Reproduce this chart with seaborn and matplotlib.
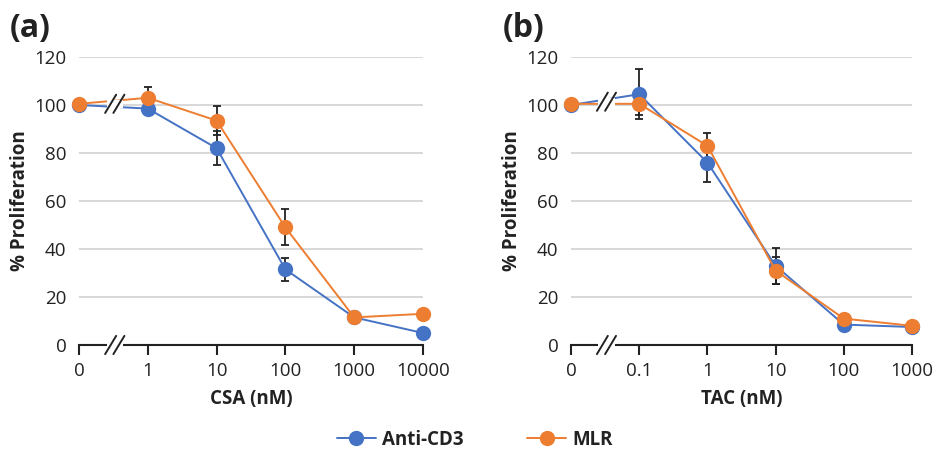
import matplotlib
matplotlib.use('Agg')

import numpy as np
import pandas as pd
import matplotlib.pyplot as plt
import seaborn as sns

sns.set_theme(style="white")
plt.rcParams['font.family'] = ['Open Sans', 'DejaVu Sans']

# Daten
csa_doses = ['0', '1', '10', '100', '1000', '10000']
csa_anti = [100, 98.5, 82, 31.5, 11.5, 5]
csa_anti_err = [0, 0, 7, 4.8, 0, 0]
csa_mlr = [100.5, 103, 93.5, 49, 11.5, 13]
csa_mlr_err = [0, 4.5, 6, 7.5, 0, 0]

tac_doses = ['0', '0.1', '1', '10', '100', '1000']
tac_anti = [100, 104.5, 76, 33, 8.5, 7.5]
tac_anti_err = [0, 10.5, 8, 7.5, 0, 0]
tac_mlr = [100.5, 100.5, 83, 31, 11, 8]
tac_mlr_err = [0, 4.5, 5.5, 5.5, 0, 0]

blue = '#4472C4'
orange = '#ED7D31'
dark = '#222222'

fig = plt.figure(figsize=(9.36, 4.55), dpi=100)
ax_a = fig.add_axes([79 / 936, 1 - 345 / 455, 344 / 936, 288 / 455])
ax_b = fig.add_axes([571 / 936, 1 - 345 / 455, 341 / 936, 288 / 455])


def panel(ax, doses, anti, anti_err, mlr, mlr_err, xlabel, tag):
    pos = np.arange(len(doses))
    df = pd.DataFrame({'pos': np.concatenate([pos, pos]),
                       'val': anti + mlr,
                       'serie': ['Anti-CD3'] * len(pos) + ['MLR'] * len(pos)})
    ax.errorbar(pos, anti, yerr=anti_err, fmt='none', ecolor=dark,
                elinewidth=1.3, capsize=3, capthick=1.3, zorder=2, clip_on=False)
    ax.errorbar(pos, mlr, yerr=mlr_err, fmt='none', ecolor=dark,
                elinewidth=1.3, capsize=3, capthick=1.3, zorder=2, clip_on=False)
    sns.lineplot(data=df, x='pos', y='val', hue='serie', palette=[blue, orange],
                 marker='o', markersize=11, markeredgewidth=0, linewidth=1.4,
                 ax=ax, legend=False, zorder=3, clip_on=False)
    for l in ax.lines:
        l.set_clip_on(False)

    ax.set_xlim(0, len(doses) - 1)
    ax.set_ylim(0, 120)
    ax.set_yticks(range(0, 121, 20))
    ax.set_xticks(pos)
    ax.set_xticklabels(doses)
    ax.yaxis.grid(True, color='#D9D9D9', linewidth=1.5)
    ax.set_axisbelow(True)
    for s in ['left', 'right', 'top']:
        ax.spines[s].set_visible(False)
    ax.spines['bottom'].set_color(dark)
    ax.spines['bottom'].set_linewidth(1.5)
    ax.tick_params(axis='x', bottom=True, length=7, width=1.5, color=dark,
                   labelsize=13.5, colors=dark, pad=5)
    ax.tick_params(axis='y', left=False, labelsize=13.5, colors=dark, pad=3)
    ax.set_xlabel(xlabel, fontsize=13.5, fontweight='bold', color=dark, labelpad=7)
    ax.set_ylabel('% Proliferation', fontsize=13.5, fontweight='bold', color=dark, labelpad=3)

    # Achsenunterbrechung
    xb = 0.52
    for yb in [0, (anti[0] + anti[1] + mlr[0] + mlr[1]) / 4]:
        ax.plot([xb - 0.12, xb + 0.12], [yb, yb], color='white', linewidth=6,
                zorder=4, clip_on=False, solid_capstyle='butt')
        for dx in [-0.06, 0.06]:
            ax.plot([xb + dx - 0.08, xb + dx + 0.08], [yb - 3.8, yb + 3.8],
                    color=dark, linewidth=1.4, zorder=5, clip_on=False)

    ax.text(-0.2, 1.04, tag, transform=ax.transAxes, fontsize=23,
            fontweight='bold', color=dark, ha='left', va='bottom')


panel(ax_a, csa_doses, csa_anti, csa_anti_err, csa_mlr, csa_mlr_err, 'CSA (nM)', '(a)')
panel(ax_b, tac_doses, tac_anti, tac_anti_err, tac_mlr, tac_mlr_err, 'TAC (nM)', '(b)')

h1 = plt.Line2D([], [], color=blue, marker='o', markersize=11, markeredgewidth=0, linewidth=1.4)
h2 = plt.Line2D([], [], color=orange, marker='o', markersize=11, markeredgewidth=0, linewidth=1.4)
leg = fig.legend([h1, h2], ['Anti-CD3', 'MLR'], loc='center', bbox_to_anchor=(0.507, 1 - 440 / 455),
                 ncol=2, frameon=False, handlelength=2.1, handletextpad=0.3, columnspacing=3.4,
                 prop={'weight': 'bold', 'size': 13.5})
for t in leg.get_texts():
    t.set_color(dark)

fig.savefig('out.png', dpi=100)
